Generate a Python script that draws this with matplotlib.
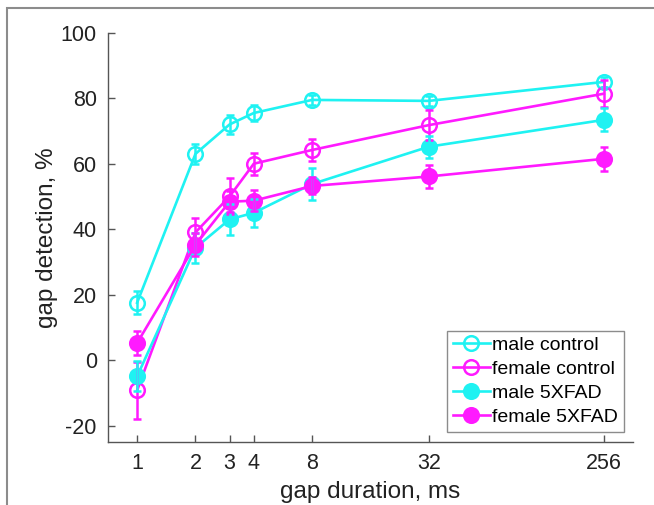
import matplotlib.pyplot as plt
from matplotlib.lines import Line2D
from matplotlib.patches import Rectangle

plt.rcParams['font.family'] = ['Liberation Sans', 'DejaVu Sans']
plt.rcParams['axes.unicode_minus'] = False

# gap durations (ms)
gap_ms = [1, 2, 3, 4, 8, 32, 256]
tick_labels = ['1', '2', '3', '4', '8', '32', '256']

# gap detection, % (mean and error)
male_ctrl = [17.5, 63, 72, 75.5, 79.5, 79.2, 85]
male_ctrl_err = [3.5, 3, 3, 2.5, 1.5, 1.5, 1.5]
female_ctrl = [-9.3, 39, 50, 60, 64.2, 71.8, 81.4]
female_ctrl_err = [8.7, 4.3, 5.5, 3.4, 3.3, 4.6, 4.2]
male_5xfad = [-5, 34.3, 43, 45, 53.8, 65.2, 73.4]
male_5xfad_err = [4.6, 4.5, 4.8, 4.3, 5, 3.4, 3.5]
female_5xfad = [5.2, 35.2, 48.4, 48.7, 53.2, 56.1, 61.5]
female_5xfad_err = [3.6, 3.5, 3.2, 3.2, 2.6, 3.4, 3.6]

cyan = '#1ff2f2'
magenta = '#ff1aff'

fig = plt.figure(figsize=(6.54, 5.05), dpi=100)
ax = fig.add_axes([0.165, 0.125, 0.803, 0.81])

# gray frame around the whole panel
fig.patches.append(Rectangle((7 / 654, -0.1), 1.2, 1 - 8 / 505 + 0.1,
                             transform=fig.transFigure, fill=False,
                             edgecolor='#8c8c8c', linewidth=1.5))

series = [
    ('male control', male_ctrl, male_ctrl_err, cyan, 'none'),
    ('female control', female_ctrl, female_ctrl_err, magenta, 'none'),
    ('male 5XFAD', male_5xfad, male_5xfad_err, cyan, cyan),
    ('female 5XFAD', female_5xfad, female_5xfad_err, magenta, magenta),
]

handles = []
for name, y, err, col, face in series:
    style = dict(color=col, marker='o', markersize=10.5, markerfacecolor=face,
                 markeredgecolor=col, markeredgewidth=1.8, linewidth=1.9)
    ax.errorbar(gap_ms, y, yerr=err, elinewidth=1.8, capsize=3, capthick=1.8,
                barsabove=True, **style)
    handles.append(Line2D([], [], label=name, **style))

ax.set_xscale('log', base=2)
ax.set_xlim(2 ** -0.5, 2 ** 8.5)
ax.set_ylim(-25, 100)
ax.set_xticks(gap_ms)
ax.set_xticklabels(tick_labels)
ax.minorticks_off()
ax.set_yticks([-20, 0, 20, 40, 60, 80, 100])

for s in ['top', 'right']:
    ax.spines[s].set_visible(False)
for s in ['left', 'bottom']:
    ax.spines[s].set_color('#555555')
    ax.spines[s].set_linewidth(1.0)
ax.tick_params(direction='in', length=5, width=1.0, color='#555555',
               labelsize=15.5, labelcolor='#222222', pad=8)

ax.set_xlabel('gap duration, ms', fontsize=17.5, color='#222222', labelpad=5)
ax.set_ylabel('gap detection, %', fontsize=17.5, color='#222222', labelpad=2)

leg = ax.legend(handles=handles, loc='lower right',
                bbox_to_anchor=(0.983, 0.024), borderaxespad=0, fontsize=14,
                frameon=True, fancybox=False, edgecolor='#8c8c8c', framealpha=1,
                handlelength=1.9, handletextpad=0.15, labelspacing=0.33,
                borderpad=0.3)
leg.get_frame().set_linewidth(1.0)

fig.savefig('out.png', dpi=100)
